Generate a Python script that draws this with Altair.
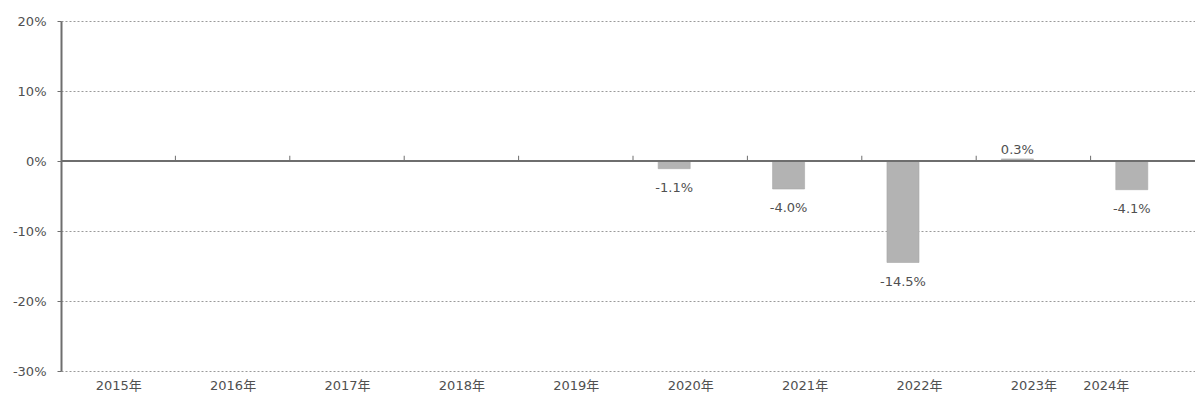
import altair as alt
import pandas as pd

# Year-on-year change (%) by year; no data for 2015-2019
years = ["2015年", "2016年", "2017年", "2018年", "2019年",
         "2020年", "2021年", "2022年", "2023年", "2024年"]
growth = [None, None, None, None, None, -1.1, -4.0, -14.5, 0.3, -4.1]
y_ticks = [20, 10, 0, -10, -20, -30]

FONT = "DejaVu Sans, 'Noto Sans CJK JP', sans-serif"
TEXT_COLOR = "#505050"
AXIS_COLOR = "#6e6e6e"

df = pd.DataFrame({
    "year": years,
    "idx": list(range(len(years))),
    "value": growth,
})
df["label"] = [None if v is None else f"{v:.1f}%" for v in growth]

# category slot width in pixels; the drawing area shows a little under ten slots
slot = 114.4
plot_w = 1134
plot_h = 350

x_scale = alt.Scale(domain=[0, plot_w / slot], nice=False, zero=False)
y_scale = alt.Scale(domain=[-30, 20], nice=False, zero=False)

label_expr = "[" + ",".join(f"'{y}'" for y in years) + "][floor(datum.value)]"

x_axis = alt.Axis(
    values=[i + 0.5 for i in range(len(years))],
    labelExpr=label_expr,
    # the last label is pulled inward so it stays inside the chart frame
    labelOffset={"condition": {"test": "datum.value > 9", "value": -42}, "value": 0},
    title=None,
    domain=False,
    ticks=False,
    grid=False,
    labelPadding=8,
    labelFont=FONT,
    labelFontSize=13,
    labelColor=TEXT_COLOR,
)
y_axis = alt.Axis(
    values=y_ticks,
    labelExpr="datum.value + '%'",
    title=None,
    grid=True,
    gridDash=[2, 2],
    gridColor="#9a9a9a",
    gridWidth=1,
    domain=True,
    domainColor=AXIS_COLOR,
    domainWidth=2,
    ticks=True,
    tickSize=4,
    tickColor=AXIS_COLOR,
    tickWidth=1,
    labelPadding=11,
    labelFont=FONT,
    labelFontSize=13,
    labelColor=TEXT_COLOR,
)

base = alt.Chart(df)

valid = base.transform_filter("isValid(datum.value)").transform_calculate(
    x0="datum.idx + 0.22", x1="datum.idx + 0.5", xm="datum.idx + 0.36"
)

bars = valid.mark_bar(color="#b3b3b3", stroke="#a8a8a8", strokeWidth=0.6).encode(
    x=alt.X("x0:Q", scale=x_scale, axis=x_axis),
    x2="x1:Q",
    y=alt.Y("value:Q", scale=y_scale, axis=y_axis),
    y2=alt.datum(0),
)

text_style = dict(font=FONT, fontSize=13, color=TEXT_COLOR, baseline="middle", align="center")

labels_neg = valid.transform_filter("datum.value < 0").mark_text(dy=19, **text_style).encode(
    x=alt.X("xm:Q", scale=x_scale),
    y=alt.Y("value:Q", scale=y_scale),
    text="label:N",
)
labels_pos = valid.transform_filter("datum.value >= 0").mark_text(dy=-9, **text_style).encode(
    x=alt.X("xm:Q", scale=x_scale),
    y=alt.Y("value:Q", scale=y_scale),
    text="label:N",
)

# horizontal category axis running along zero
zero_line = base.mark_rule(color=AXIS_COLOR, strokeWidth=2).encode(
    y=alt.datum(0)
).transform_filter("datum.idx == 0")

# small category separators standing on the zero line
separators = base.transform_filter("datum.idx > 0").mark_rule(
    color=AXIS_COLOR, strokeWidth=1
).encode(
    x=alt.X("idx:Q", scale=x_scale),
    y=alt.datum(0),
    y2=alt.datum(0.75),
)

chart = alt.layer(bars, zero_line, separators, labels_neg, labels_pos).properties(
    width=plot_w,
    height=plot_h,
    autosize=alt.AutoSizeParams(type="none"),
    padding={"left": 61, "top": 21, "right": 0, "bottom": 30},
    background="white",
).configure_view(stroke=None)

chart.save("out.html", embed_options={"renderer": "svg", "actions": False})
